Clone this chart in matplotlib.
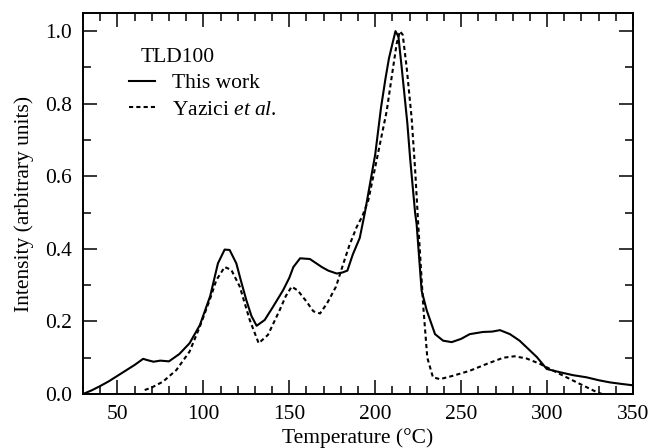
import matplotlib
matplotlib.use("Agg")
from matplotlib import pyplot as plt
from matplotlib.ticker import MultipleLocator

plt.rcParams['font.family'] = ['Liberation Serif', 'DejaVu Serif']
plt.rcParams['mathtext.fontset'] = 'custom'
plt.rcParams['mathtext.rm'] = 'Liberation Serif'
plt.rcParams['mathtext.it'] = 'Liberation Serif:italic'

# "This work" curve
temp_this = [30, 35, 40, 45, 50, 55, 60, 65, 67, 71, 75, 80, 86, 92, 98,
             104, 108.5, 112.4, 115.3, 119.2, 122, 125, 128, 131, 135.7, 140.5,
             146.4, 150, 152.4, 156.3, 162, 168.9, 172.7, 177.6, 181, 183.8,
             187, 191, 194, 197, 200, 203.4, 206, 208, 210, 211.8, 213.5, 215.4,
             218.7, 220.3, 223.2, 224.1, 227, 230, 234.8, 239.5, 244.5, 250,
             255, 262.7, 268, 272.6, 278.4, 284, 290, 294, 299.8, 307.5, 315,
             323, 330, 336.6, 343, 350]
int_this = [0.0, 0.01, 0.022, 0.035, 0.05, 0.065, 0.08, 0.097, 0.094, 0.089,
            0.092, 0.09, 0.11, 0.14, 0.19, 0.27, 0.36, 0.398, 0.397, 0.36,
            0.31, 0.259, 0.215, 0.188, 0.204, 0.24, 0.286, 0.32, 0.35, 0.374,
            0.372, 0.35, 0.34, 0.332, 0.335, 0.34, 0.385, 0.43, 0.5, 0.58,
            0.66, 0.79, 0.87, 0.925, 0.965, 1.0, 0.985, 0.9, 0.746, 0.65, 0.5,
            0.468, 0.285, 0.23, 0.165, 0.147, 0.143, 0.152, 0.165, 0.171,
            0.172, 0.176, 0.165, 0.147, 0.12, 0.102, 0.069, 0.06, 0.052,
            0.046, 0.038, 0.032, 0.028, 0.024]

# Yazici et al. curve
temp_yaz = [65.9, 70, 76.5, 84.3, 92, 97.9, 103.7, 107.6, 112.4, 116.3,
            121.2, 127, 132.2, 137.6, 144.4, 148, 151.4, 155, 160, 164,
            167.9, 172, 177.2, 181.5, 185, 189.2, 192.5, 196, 198.9, 202.8,
            206.7, 209.6, 212.5, 214.4, 216, 218.3, 221.2, 223.2, 225, 228,
            230.3, 233.6, 237.7, 245, 255, 264.9, 274.5, 281, 288, 295.9,
            307.5, 319, 329, 332]
int_yaz = [0.011, 0.018, 0.034, 0.066, 0.117, 0.185, 0.259, 0.314, 0.35,
           0.342, 0.296, 0.204, 0.14, 0.163, 0.231, 0.27, 0.296, 0.285,
           0.255, 0.228, 0.222, 0.25, 0.296, 0.36, 0.41, 0.46, 0.49, 0.534,
           0.6, 0.69, 0.78, 0.874, 0.966, 1.0, 0.99, 0.9, 0.76, 0.62, 0.47,
           0.239, 0.1, 0.046, 0.041, 0.05, 0.064, 0.083, 0.1, 0.104, 0.098,
           0.083, 0.055, 0.028, 0.005, 0.0]

fig = plt.figure(figsize=(6.5, 4.48), dpi=100)
ax = fig.add_axes([0.1277, 0.1205, 0.8462, 0.8505])

ax.plot(temp_this, int_this, color='black', lw=1.5, label='This work')
ax.plot(temp_yaz, int_yaz, color='black', lw=1.5, linestyle=(0, (2, 1.5)),
        label='Yazici $\\it{et\\ al.}$')

ax.set_xlim(30, 350)
ax.set_ylim(0, 1.05)
ax.xaxis.set_major_locator(MultipleLocator(50))
ax.xaxis.set_minor_locator(MultipleLocator(10))
ax.yaxis.set_major_locator(MultipleLocator(0.2))
ax.yaxis.set_minor_locator(MultipleLocator(0.1))
ax.yaxis.set_major_formatter(plt.FormatStrFormatter('%.1f'))

ax.tick_params(which='both', direction='in', top=True, right=True,
               width=1.1, labelsize=15.5)
ax.tick_params(which='major', length=10, pad=8)
ax.tick_params(which='minor', length=6)
for s in ax.spines.values():
    s.set_linewidth(1.4)

ax.set_xlabel('Temperature (°C)', fontsize=15.5, labelpad=3)
ax.set_ylabel('Intensity (arbitrary units)', fontsize=15.5, labelpad=8)

ax.text(0.104, 0.871, 'TLD100', transform=ax.transAxes, fontsize=15.5,
        va='baseline', ha='left')
ax.legend(loc='upper left', frameon=False, fontsize=15.5, handlelength=1.2,
          handletextpad=0.8, labelspacing=0.3, borderaxespad=0,
          bbox_to_anchor=(0.068, 0.864))

fig.savefig('out.png', dpi=100)
